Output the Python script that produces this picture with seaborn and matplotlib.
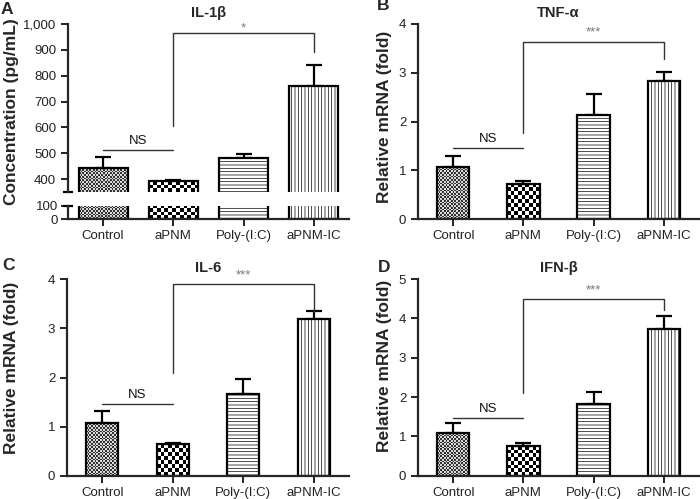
import numpy as np
import matplotlib
matplotlib.use('Agg')
import matplotlib.pyplot as plt
import seaborn as sns
from matplotlib.colors import ListedColormap
from matplotlib.ticker import StrMethodFormatter

# dados (média e erro superior)
grupos = ['Control', 'aPNM', 'Poly-(I:C)', 'aPNM-IC']

il1b_media = [443, 391, 480, 760]
il1b_erro = [43, 5, 17, 81]
tnf_media = [1.06, 0.72, 2.14, 2.84]
tnf_erro = [0.23, 0.05, 0.42, 0.17]
il6_media = [1.08, 0.64, 1.67, 3.18]
il6_erro = [0.23, 0.04, 0.29, 0.17]
ifnb_media = [1.09, 0.76, 1.82, 3.73]
ifnb_erro = [0.26, 0.06, 0.30, 0.34]

# níveis das anotações: linha NS, base esquerda, topo e base direita do colchete
il1b_sig = (512, 605, 965, 892, '*')
tnf_sig = (1.46, 1.76, 3.64, 3.28, '***')
il6_sig = (1.46, 2.10, 3.90, 3.33, '***')
ifnb_sig = (1.47, 2.09, 4.49, 4.21, '***')

texturas = ['xadrez_fino', 'xadrez_grosso', '-----', '|||||']
xadrez = {'xadrez_fino': (1.7, '#333333', '#d9d9d9'),
          'xadrez_grosso': (3.8, 'black', 'white')}

sns.set_style('ticks')
plt.rcParams['font.family'] = ['Liberation Sans', 'DejaVu Sans']
plt.rcParams['hatch.linewidth'] = 0.5
plt.rcParams['axes.linewidth'] = 1.6
plt.rcParams['xtick.major.width'] = 1.4
plt.rcParams['ytick.major.width'] = 1.4
plt.rcParams['xtick.major.size'] = 5
plt.rcParams['ytick.major.size'] = 5
plt.rcParams['xtick.labelsize'] = 9.5
plt.rcParams['ytick.labelsize'] = 9.5
plt.rcParams['xtick.color'] = '#222222'
plt.rcParams['ytick.color'] = '#222222'

W, H = 700, 499
fig = plt.figure(figsize=(7, 4.99), dpi=100)


def _eixo(esq, topo, dir, base):
    return fig.add_axes([esq / W, 1 - base / H, (dir - esq) / W, (base - topo) / H])


def _barras(ax, medias, erros, largura):
    sns.barplot(x=grupos, y=medias, ax=ax, width=largura, color='white', edgecolor='black',
                linewidth=1.6, errorbar=None, zorder=2)
    centros = [p.get_x() + p.get_width() / 2 for p in ax.patches]
    ax.errorbar(centros, medias, yerr=[np.zeros(len(erros)), erros], fmt='none', ecolor='black',
                elinewidth=1.6, capsize=6, capthick=1.6, zorder=1.8)
    return centros


def _texturas(ax, y_lim):
    for p, tex in zip(ax.patches, texturas):
        if tex in xadrez:
            celula, escuro, claro = xadrez[tex]
            x0, w = p.get_x(), p.get_width()
            y0 = max(p.get_y(), y_lim[0])
            y1 = min(p.get_y() + p.get_height(), y_lim[1])
            (px0, py0), (px1, py1) = ax.transData.transform([(x0, y0), (x0 + w, y1)])
            nx = max(1, int(round(abs(px1 - px0) / celula)))
            ny = max(1, int(round(abs(py1 - py0) / celula)))
            tab = np.add.outer(np.arange(ny), np.arange(nx)) % 2
            ax.imshow(tab, extent=(x0, x0 + w, y0, y1), cmap=ListedColormap([claro, escuro]),
                      interpolation='nearest', aspect='auto', zorder=1.5)
            p.set_facecolor('none')
        else:
            p.set_hatch(tex)
    ax.set_xlim(-0.5, 3.5)
    ax.set_ylim(*y_lim)


def _anotar(ax, centros, sig, dy):
    ns, esq, topo, dir, estrelas = sig
    ax.plot([centros[0], centros[1]], [ns, ns], color='#333333', lw=1.0, zorder=3)
    ax.annotate('NS', (np.mean(centros[:2]), ns), xytext=(0, 2), textcoords='offset points',
                ha='center', va='bottom', fontsize=9.5, color='#111111')
    ax.plot([centros[1], centros[1], centros[3], centros[3]], [esq, topo, topo, dir],
            color='#333333', lw=1.0, zorder=3)
    ax.annotate(estrelas, ((centros[1] + centros[3]) / 2, topo), xytext=(0, dy),
                textcoords='offset points', ha='center', va='bottom', fontsize=9.5, color='#777777')


def _finalizar(ax, titulo, y_lim, passo):
    ax.set_xlim(-0.5, 3.5)
    ax.set_ylim(*y_lim)
    ax.set_yticks(np.arange(y_lim[0], y_lim[1] + passo / 2, passo))
    ax.set_title(titulo, fontsize=10.5, fontweight='bold', pad=5)
    ax.tick_params(axis='x', pad=3)
    sns.despine(ax=ax)


# painel A (eixo quebrado)
ax_a = _eixo(68, 24, 349, 192)
ax_a0 = _eixo(68, 205.7, 349, 219)
centros_a = _barras(ax_a, il1b_media, il1b_erro, 0.7)
_barras(ax_a0, il1b_media, il1b_erro, 0.7)
ax_a.set_xlim(-0.5, 3.5)
ax_a.set_ylim(350, 1000)
ax_a.set_yticks(np.arange(400, 1001, 100))
ax_a.yaxis.set_major_formatter(StrMethodFormatter('{x:,.0f}'))
ax_a.set_title('IL-1\u03b2', fontsize=10.5, fontweight='bold', pad=5)
ax_a.xaxis.set_visible(False)
sns.despine(ax=ax_a, bottom=True)
ax_a0.set_xlim(-0.5, 3.5)
ax_a0.set_ylim(0, 100)
ax_a0.set_yticks([0, 100])
ax_a0.tick_params(axis='x', pad=3)
ax_a0.tick_params(axis='y', pad=2)
sns.despine(ax=ax_a0)
_texturas(ax_a, (350, 1000))
_texturas(ax_a0, (0, 100))
ax_a.plot([0], [0], marker='_', ms=7, mew=1.6, color='black', transform=ax_a.transAxes, clip_on=False)
ax_a0.plot([0], [1], marker='_', ms=7, mew=1.6, color='black', transform=ax_a0.transAxes, clip_on=False)
_anotar(ax_a, centros_a, il1b_sig, -1)

# painéis B, C, D
paineis = [
    ((418, 24, 699, 219), tnf_media, tnf_erro, tnf_sig, 'TNF-\u03b1', (0, 4), 1),
    ((67, 279, 349, 476), il6_media, il6_erro, il6_sig, 'IL-6', (0, 4), 1),
    ((418, 279, 699, 475.7), ifnb_media, ifnb_erro, ifnb_sig, 'IFN-\u03b2', (0, 5), 1),
]
for caixa, medias, erros, sig, titulo, lim, passo in paineis:
    ax = _eixo(*caixa)
    centros = _barras(ax, medias, erros, 0.46)
    _finalizar(ax, titulo, lim, passo)
    _texturas(ax, lim)
    _anotar(ax, centros, sig, 2)

# rótulos dos eixos y e letras dos painéis
rotulos = [(12, 112, 'Concentration (pg/mL)'), (384, 117, 'Relative mRNA (fold)'),
           (12, 368, 'Relative mRNA (fold)'), (384, 366, 'Relative mRNA (fold)')]
for x, y, txt in rotulos:
    fig.text(x / W, 1 - y / H, txt, rotation=90, ha='center', va='center', fontsize=12.5, fontweight='bold')
for x, y, letra in [(1, 9, 'A'), (377, 6, 'B'), (2, 266, 'C'), (378, 268, 'D')]:
    fig.text(x / W, 1 - y / H, letra, ha='left', va='center', fontsize=12.5, fontweight='bold')

fig.savefig('out.png', dpi=100)
